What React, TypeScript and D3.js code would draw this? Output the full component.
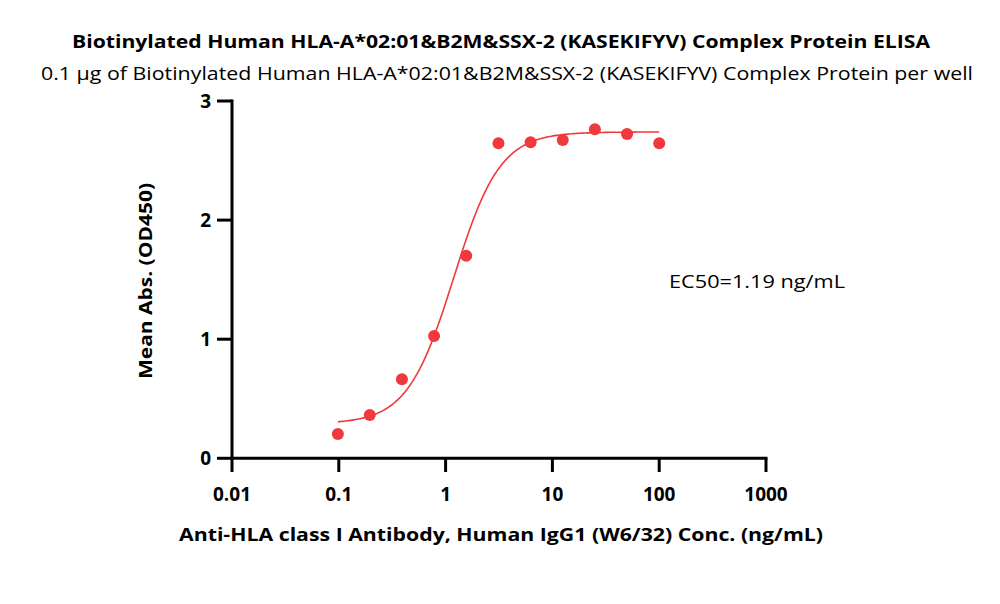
import React from "react";
import * as d3 from "d3";

const concentrations = [0.098, 0.195, 0.39, 0.78, 1.56, 3.125, 6.25, 12.5, 25, 50, 100];
const absorbance = [0.204, 0.364, 0.663, 1.027, 1.70, 2.645, 2.653, 2.672, 2.762, 2.723, 2.645];
const xTicks = [0.01, 0.1, 1, 10, 100, 1000];
const xTickLabels = ["0.01", "0.1", "1", "10", "100", "1000"];
const yTicks = [0, 1, 2, 3];
// 4PL fit parameters
const fitBottom = 0.29;
const fitTop = 2.74;
const fitEC50 = 1.19;
const fitHill = 2.0;
const fitRange = [0.098, 100];

const RED = "#f0393c";
const FONT = "'Open Sans', sans-serif";

export default function App() {
  const x = d3.scaleLog().domain([0.01, 1000]).range([232, 766]);
  const y = d3.scaleLinear().domain([0, 3]).range([458.3, 101]);
  const fit = (c: number) => fitBottom + (fitTop - fitBottom) / (1 + Math.pow(fitEC50 / c, fitHill));
  const curvePts: [number, number][] = d3
    .range(0, 201)
    .map((i) => {
      const lx = Math.log10(fitRange[0]) + (i / 200) * (Math.log10(fitRange[1]) - Math.log10(fitRange[0]));
      const c = Math.pow(10, lx);
      return [x(c), y(fit(c))];
    });
  const line = d3.line()(curvePts) || "";

  return (
    <svg width={1000} height={604} style={{ display: "block", position: "absolute", left: 0, top: 0, background: "#fff" }}>
      <rect width={1000} height={604} fill="#fff" />
      <text x={501} y={48} textAnchor="middle" fontFamily={FONT} fontWeight="bold" fontSize={18} textLength={858} lengthAdjust="spacingAndGlyphs">
        Biotinylated Human HLA-A*02:01&amp;B2M&amp;SSX-2 (KASEKIFYV) Complex Protein ELISA
      </text>
      <text x={507} y={80} textAnchor="middle" fontFamily={FONT} fontSize={18} textLength={932} lengthAdjust="spacingAndGlyphs">
        0.1 μg of Biotinylated Human HLA-A*02:01&amp;B2M&amp;SSX-2 (KASEKIFYV) Complex Protein per well
      </text>

      {/* axes */}
      <line x1={232} x2={232} y1={99.5} y2={459.8} stroke="#000" strokeWidth={3} />
      <line x1={230.5} x2={767.5} y1={458.3} y2={458.3} stroke="#000" strokeWidth={3} />
      {yTicks.map((t) => (
        <g key={"y" + t}>
          <line x1={217} x2={232} y1={y(t)} y2={y(t)} stroke="#000" strokeWidth={3} />
          <text x={211} y={y(t) + 7} textAnchor="end" fontFamily={FONT} fontWeight="bold" fontSize={19}>
            {t}
          </text>
        </g>
      ))}
      {xTicks.map((t, i) => (
        <g key={"x" + t}>
          <line x1={x(t)} x2={x(t)} y1={458.3} y2={472} stroke="#000" strokeWidth={3} />
          <text x={x(t)} y={501} textAnchor="middle" fontFamily={FONT} fontWeight="bold" fontSize={19}>
            {xTickLabels[i]}
          </text>
        </g>
      ))}

      <text x={501} y={541} textAnchor="middle" fontFamily={FONT} fontWeight="bold" fontSize={18} textLength={644} lengthAdjust="spacingAndGlyphs">
        Anti-HLA class I Antibody, Human IgG1 (W6/32) Conc. (ng/mL)
      </text>
      <text transform="translate(152,281) rotate(-90)" textAnchor="middle" fontFamily={FONT} fontWeight="bold" fontSize={18} textLength={196} lengthAdjust="spacingAndGlyphs">
        Mean Abs. (OD450)
      </text>

      <path d={line} fill="none" stroke={RED} strokeWidth={1.6} />
      {concentrations.map((c, i) => (
        <circle key={i} cx={x(c)} cy={y(absorbance[i])} r={6} fill={RED} />
      ))}

      <text x={669} y={288} fontFamily={FONT} fontSize={18} textLength={176} lengthAdjust="spacingAndGlyphs">
        EC50=1.19 ng/mL
      </text>
    </svg>
  );
}
